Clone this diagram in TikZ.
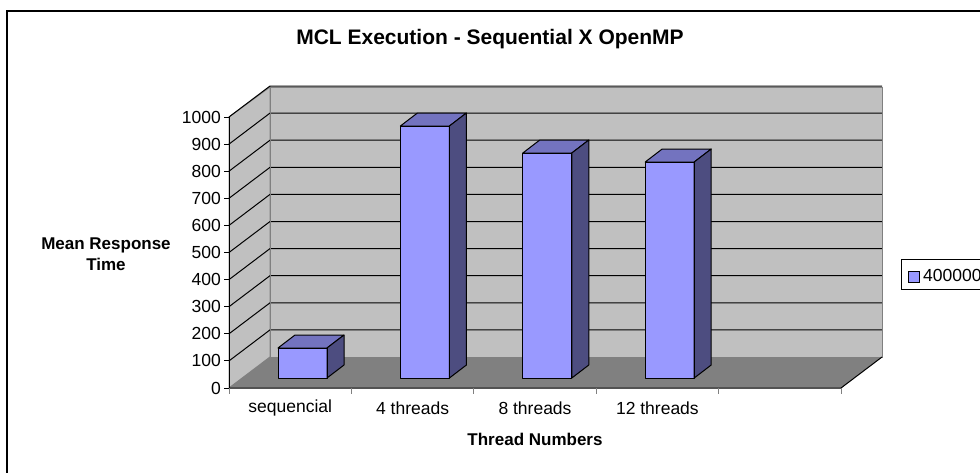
\documentclass[tikz,border=0pt]{standalone}
\usepackage{fontspec}
\setmainfont{Liberation Sans}
\definecolor{wallgray}{RGB}{192,192,192}
\definecolor{floorgray}{RGB}{128,128,128}
\definecolor{edgegray}{RGB}{128,128,128}
\definecolor{barfront}{RGB}{153,153,255}
\definecolor{bartop}{RGB}{115,115,191}
\definecolor{barside}{RGB}{77,77,128}
\begin{document}
\begin{tikzpicture}[x=1pt,y=-1pt,
  lbl/.style={inner sep=0pt,font=\fontsize{17.5}{20}\selectfont},
  axtitle/.style={inner sep=0pt,font=\fontsize{17}{21}\selectfont\bfseries,align=center},
  grid/.style={black,line width=1pt},
  wall/.style={fill=wallgray,draw=edgegray,line width=1pt},
  barface/.style={draw=black,line width=1pt,line join=round}]
\useasboundingbox (0,0) rectangle (980,472);
\fill[white] (0,0) rectangle (980,472);
% chart frame
\draw[line width=2pt] (7,11) rectangle (1000,500);
% title
\node[inner sep=0pt,font=\fontsize{21}{24}\selectfont\bfseries] (title) at (490,39) {MCL Execution - Sequential X OpenMP};
% side and back walls
\draw[wall] (229,388) -- (229,117) -- (270,87) -- (270,357) -- cycle;
\draw[wall] (270,87) rectangle (882,357);
% gridlines on both walls
\foreach \k in {1,...,10}{
  \pgfmathsetmacro{\yb}{357-27.1*\k}
  \pgfmathsetmacro{\yf}{388-27.1*\k}
  \draw[grid] (229,\yf) -- (270,\yb) -- (882,\yb);
}
\draw[edgegray,line width=1pt] (270,87) rectangle (882,357);
% floor
\fill[floorgray] (229,388) -- (841,388) -- (882,357) -- (270,357) -- cycle;
\draw[black,line width=1pt] (229,388) -- (841,388) -- (882,357);
% value axis
\draw[black,line width=1pt] (229,388) -- (229,117);
\foreach \k in {0,...,10}{
  \pgfmathsetmacro{\yf}{388-27.1*\k}
  \pgfmathtruncatemacro{\v}{100*\k}
  \draw[black,line width=1pt] (224,\yf) -- (229,\yf);
  \node[lbl,anchor=east] (ytick\k) at (221,\yf) {\v};
}
% category axis ticks
\foreach \i in {0,...,5}{
  \draw[edgegray,line width=1pt] (229+122.4*\i,388) -- (229+122.4*\i,394);
}
% bars: left x, top y
\foreach \x/\t in {278/348, 400.4/126, 522.8/153, 645.2/162}{
  \fill[barfront] (\x,378) rectangle (\x+49,\t);
  \filldraw[barface,fill=bartop] (\x,\t) -- (\x+17,\t-13) -- (\x+66,\t-13) -- (\x+49,\t) -- cycle;
  \filldraw[barface,fill=barside] (\x+49,\t) -- (\x+66,\t-13) -- (\x+66,365) -- (\x+49,378) -- cycle;
  \draw[barface] (\x,378) rectangle (\x+49,\t);
}
% category labels
\foreach \lab [count=\i from 0] in {sequencial,4 threads,8 threads,12 threads}{
  \node[lbl] (xlab\i) at (290.2+122.4*\i,408) {\lab};
}
% axis titles
\node[axtitle] (xtitle) at (535,439) {Thread Numbers};
\node[axtitle] (ytitle) at (106,254) {Mean Response\\Time};
% legend
\draw[black,line width=1pt,fill=white] (901,259) rectangle (1000,289);
\draw[black,line width=0.8pt,fill=barfront] (908,271) rectangle (919,282);
\node[lbl,anchor=west] (legtext) at (923,275) {400000};
\end{tikzpicture}
\end{document}
